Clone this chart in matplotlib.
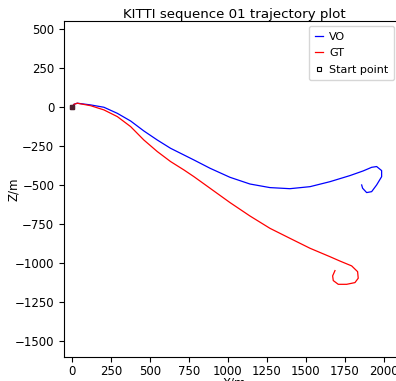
import matplotlib
matplotlib.use("Agg")
from matplotlib import pyplot as plt

# trajectory points (x, z in metres)
vo_x = [0, 13, 34, 120, 205, 291, 376, 461, 547, 632, 718, 782, 885, 1013, 1141,
        1269, 1397, 1526, 1654, 1782, 1867, 1921, 1953, 1985, 1985, 1953, 1921,
        1889, 1863, 1857]
vo_z = [0, 17, 24, 13, -2, -41, -90, -154, -212, -265, -308, -340, -393, -451, -494,
        -517, -524, -511, -479, -440, -410, -387, -382, -408, -447, -500, -543,
        -549, -521, -500]

gt_x = [0, 13, 34, 120, 205, 291, 376, 461, 547, 632, 718, 782, 885, 1013, 1141,
        1269, 1397, 1526, 1590, 1654, 1718, 1793, 1831, 1835, 1814, 1761, 1707,
        1675, 1671, 1686]
gt_z = [0, 17, 24, 8, -19, -62, -126, -212, -286, -350, -404, -447, -521, -613, -699,
        -778, -842, -906, -933, -960, -988, -1019, -1056, -1098, -1126, -1137, -1137,
        -1113, -1083, -1049]

start = (0, 0)
x_ticks = [0, 250, 500, 750, 1000, 1250, 1500, 1750, 2000]
z_ticks = [500, 250, 0, -250, -500, -750, -1000, -1250, -1500]


def trajectory_plot():
    fig = plt.figure(figsize=(3.96, 3.81), dpi=100)
    ax = fig.add_axes([64 / 396, 24 / 381, 340 / 396, 336 / 381])

    ax.plot(vo_x, vo_z, color="blue", lw=0.9, label="VO")
    ax.plot(gt_x, gt_z, color="red", lw=0.9, label="GT")
    ax.plot(*start, "s", color="black", ms=2.5, mfc="white", mew=0.8,
            ls="none", label="Start point")
    ax.plot(*start, "s", color="#502030", ms=2.5)

    ax.set_xlim(-51, -51 + 340 * 6.41)
    ax.set_ylim(-1603, 551)
    ax.set_xticks(x_ticks)
    ax.set_yticks(z_ticks)
    ax.tick_params(labelsize=8.5)
    ax.tick_params(axis="x", pad=2.5)
    ax.set_title("KITTI sequence 01 trajectory plot", fontsize=9.6, pad=2)
    ax.set_xlabel("X/m", fontsize=8.5, labelpad=-1)
    ax.set_ylabel("Z/m", fontsize=8.5, labelpad=-4)

    ax.legend(loc="upper right", bbox_to_anchor=(394 / 396, 1 - 26 / 381),
              bbox_transform=fig.transFigure, borderaxespad=0, fontsize=8,
              handlelength=0.7, handletextpad=0.6, borderpad=0.5, labelspacing=0.6)

    fig.savefig("out.png", dpi=100)


if __name__ == "__main__":
    trajectory_plot()
